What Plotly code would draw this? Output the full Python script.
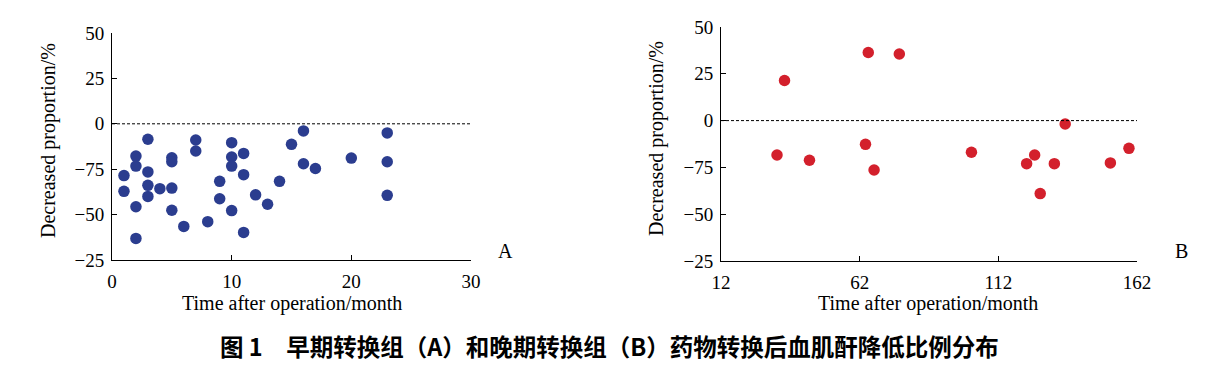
import plotly.graph_objects as go

# Panel A: early conversion group
a_month = [1, 1, 2, 2, 2, 2, 3, 3, 3, 3, 4, 5, 5, 5, 5, 6, 7, 7, 8, 9, 9,
           10, 10, 10, 10, 11, 11, 11, 12, 13, 14, 15, 16, 16, 17, 20, 23, 23, 23]
a_value = [-28.5, -37.2, -17.8, -23.3, -45.7, -63.1, -8.5, -26.5, -33.9, -40.0,
           -35.7, -18.7, -20.9, -35.4, -47.6, -56.5, -8.9, -15.0, -53.9, -31.7,
           -41.3, -10.4, -18.3, -23.3, -47.8, -16.3, -28.0, -59.8, -39.1, -44.3,
           -31.7, -11.3, -3.9, -22.0, -24.6, -18.9, -5.0, -20.9, -39.4]

# Panel B: late conversion group
b_month = [32.2, 34.9, 43.9, 64.1, 65.1, 67.2, 76.3, 102.3, 122.2, 125.1,
           127.1, 132.2, 136.1, 152.4, 159.1]
b_value = [-18.4, 21.4, -21.2, -12.7, 36.4, -26.4, 35.6, -16.9, -23.0, -18.4,
           -39.0, -23.0, -1.8, -22.6, -14.8]

y_tickvals = [50, 25, 0, -25, -50, -75]
y_ticktext = ["50", "25", "0", "\u221275", "\u221250", "\u221225"]
a_xticks = [0, 10, 20, 30]
b_xticks = [12, 62, 112, 162]

serif = "Liberation Serif, Times New Roman, serif"
W, H = 1216, 368

fig = go.Figure()
fig.add_trace(go.Scatter(x=a_month, y=a_value, mode="markers", xaxis="x", yaxis="y",
                         marker=dict(size=11.5, color="#2b3d8f"), showlegend=False,
                         hoverinfo="skip"))
fig.add_trace(go.Scatter(x=b_month, y=b_value, mode="markers", xaxis="x2", yaxis="y2",
                         marker=dict(size=11.5, color="#d3202c"), showlegend=False,
                         hoverinfo="skip"))

tick_font = dict(family=serif, size=19, color="black")
ydom_a = [(H - 260) / H, (H - 33) / H]
ydom_b = [(H - 261) / H, (H - 27) / H]
common_x = dict(showline=True, linecolor="black", linewidth=1, ticks="inside", ticklen=5,
                tickcolor="black", showgrid=False, zeroline=False, automargin=False,
                tickfont=tick_font, ticklabelstandoff=4)
common_y = dict(showline=True, linecolor="black", linewidth=1, ticks="inside", ticklen=5,
                tickcolor="black", showgrid=False, zeroline=False, range=[-75, 50],
                tickvals=y_tickvals, ticktext=y_ticktext, automargin=False,
                tickfont=tick_font, ticklabelstandoff=3)

fig.update_layout(
    template="none",
    font=dict(family=serif, color="black"),
    width=W, height=H, margin=dict(l=0, r=0, t=0, b=0, autoexpand=False),
    plot_bgcolor="white", paper_bgcolor="white",
    xaxis=dict(domain=[112 / W, 471 / W], range=[0, 30], tickvals=a_xticks, anchor="y", **common_x),
    yaxis=dict(domain=ydom_a, anchor="x", **common_y),
    xaxis2=dict(domain=[721 / W, 1137 / W], range=[12, 162], tickvals=b_xticks, anchor="y2", **common_x),
    yaxis2=dict(domain=ydom_b, anchor="x2", **common_y),
)

fig.add_shape(type="line", xref="x", yref="y", x0=0, x1=30, y0=0, y1=0,
              line=dict(color="black", width=1, dash="3px,2px"))
fig.add_shape(type="line", xref="x2", yref="y2", x0=12, x1=162, y0=0, y1=0,
              line=dict(color="black", width=1, dash="3px,2px"))

ann_font = dict(family=serif, size=20, color="black")
ann = dict(xref="paper", yref="paper", showarrow=False, xanchor="center", yanchor="middle")
fig.add_annotation(text="Decreased proportion/%", textangle=-90,
                   x=48 / W, y=(H - 141) / H, font=ann_font, **ann)
fig.add_annotation(text="Decreased proportion/%", textangle=-90,
                   x=657 / W, y=(H - 139) / H, font=ann_font, **ann)
fig.add_annotation(text="Time after operation/month",
                   x=292 / W, y=(H - 303) / H, font=ann_font, **ann)
fig.add_annotation(text="Time after operation/month",
                   x=928 / W, y=(H - 303) / H, font=ann_font, **ann)
fig.add_annotation(text="A", x=505 / W, y=(H - 251) / H, font=ann_font, **ann)
fig.add_annotation(text="B", x=1181 / W, y=(H - 251) / H, font=ann_font, **ann)
fig.add_annotation(text="<b>图 1　早期转换组（A）和晚期转换组（B）药物转换后血肌酐降低比例分布</b>",
                   x=609 / W, y=(H - 346) / H,
                   font=dict(family="Noto Sans CJK SC", size=23.5, color="black"), **ann)

fig.write_html("out.html", config={"displayModeBar": False},
               post_script="document.body.style.margin='0';document.body.style.overflow='hidden';")
